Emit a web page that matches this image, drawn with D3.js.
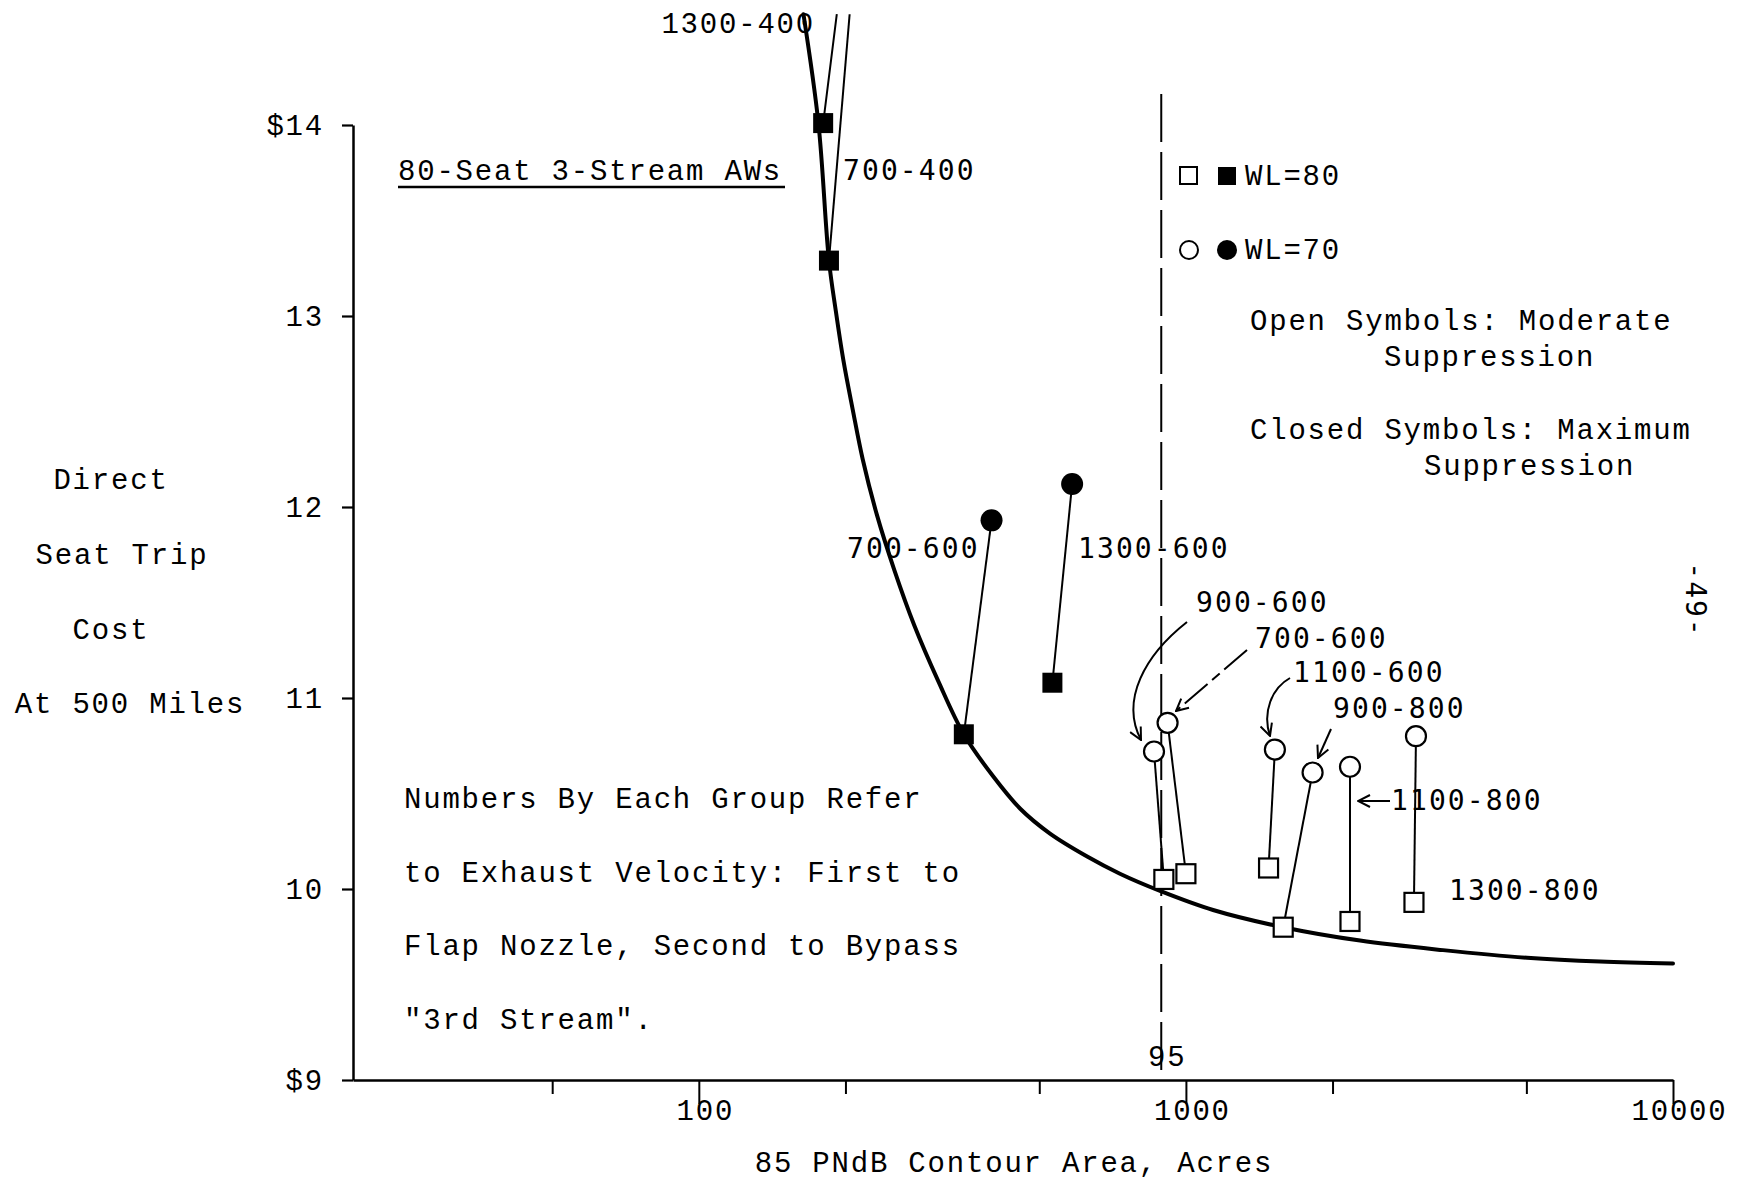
<!DOCTYPE html>
<html><head><meta charset="utf-8">
<script src="https://cdn.jsdelivr.net/npm/d3@7"></script>
<style>
html,body{margin:0;padding:0;background:#fff;}
svg{display:block;background:#fff;}
</style></head>
<body><svg id="chart" width="1743" height="1180"></svg>
<script>
// ---------------- DATA ----------------
// Cost-vs-noise envelope curve (85 PNdB contour area in acres, direct seat trip cost $)
const curveX = [164, 176, 185, 191, 198, 207, 217, 232, 252, 277, 310, 350, 402, 457, 526, 627, 732, 885, 1137, 1583, 2278, 3372, 5015, 7083, 10000];
const curveY = [14.58, 14.01, 13.29, 13.03, 12.77, 12.51, 12.25, 11.96, 11.67, 11.38, 11.09, 10.81, 10.59, 10.42, 10.29, 10.17, 10.08, 9.99, 9.89, 9.80, 9.73, 9.68, 9.64, 9.62, 9.61];

// Closed symbols (maximum suppression): square = WL=80, circle = WL=70
const closedLabels   = ["1300-400", "700-400", "700-600", "1300-600"];
const closedSquareX  = [180, 185, 350, 532];
const closedSquareY  = [14.01, 13.29, 10.81, 11.08];
const closedCircleX  = [192, 204, 399, 584];
const closedCircleY  = [14.58, 14.58, 11.93, 12.12];
const closedCircleOnScale = [false, false, true, true];

// Open symbols (moderate suppression): square = WL=80, circle = WL=70
const openLabels  = ["900-600", "700-600", "1100-600", "900-800", "1100-800", "1300-800"];
const openSquareX = [901, 1000, 1478, 1584, 2172, 2939];
const openSquareY = [10.05, 10.08, 10.11, 9.80, 9.83, 9.93];
const openCircleX = [860, 917, 1523, 1820, 2172, 2967];
const openCircleY = [10.72, 10.87, 10.73, 10.61, 10.64, 10.80];

// Reference line (95 PNdB)
const refLineX = 890;
const refLineLabel = "95";

// Axes
const yTicks = [9, 10, 11, 12, 13, 14];
const yTickLabels = ["$9", "10", "11", "12", "13", "$14"];
const xMajorTicks = [100, 1000, 10000];
const xMajorLabels = ["100", "1000", "10000"];
const xMinorTicks = [50, 200, 500, 2000, 5000];

// ---------------- CHART ----------------
const svg = d3.select("#chart");
const MONO = '"Liberation Mono","DejaVu Sans Mono",monospace';
const SANS = '"DejaVu Sans Mono",monospace';
const FS = 29, LS = 1.8;

const x = d3.scaleLog().domain([19.5, 10000]).range([353, 1673]);
const y = d3.scaleLinear().domain([9, 14]).range([1080, 125]);

svg.append("rect").attr("width", 1743).attr("height", 1180).attr("fill", "#fff");

// markers
const defs = svg.append("defs");
defs.append("marker").attr("id", "arr")
  .attr("viewBox", "0 0 14 14").attr("refX", 13).attr("refY", 7)
  .attr("markerWidth", 14).attr("markerHeight", 14)
  .attr("markerUnits", "userSpaceOnUse").attr("orient", "auto")
  .append("path").attr("d", "M1,1 L13,7 L1,13").attr("fill", "none")
  .attr("stroke", "#000").attr("stroke-width", 2);

// Y axis
const yAxis = d3.axisLeft(y).tickValues(yTicks)
  .tickFormat(d => yTickLabels[yTicks.indexOf(d)])
  .tickSize(11).tickSizeOuter(0).tickPadding(18);
const gy = svg.append("g").attr("transform", `translate(${x.range()[0]},0)`).call(yAxis);
gy.select(".domain").attr("stroke", "#000").attr("stroke-width", 2.5);
gy.selectAll(".tick line").attr("stroke", "#000").attr("stroke-width", 2.2);
gy.selectAll(".tick text").attr("font-family", MONO).attr("font-size", FS)
  .attr("letter-spacing", LS).attr("fill", "#000");

// X axis: minor ticks
const xMinor = d3.axisBottom(x).tickValues(xMinorTicks).tickFormat("").tickSize(14).tickSizeOuter(0);
const gxm = svg.append("g").attr("transform", `translate(0,${y(9)})`).call(xMinor);
gxm.select(".domain").attr("stroke", "#000").attr("stroke-width", 2.5);
gxm.selectAll(".tick line").attr("stroke", "#000").attr("stroke-width", 2);

// X axis: major ticks with labels
const xMajor = d3.axisBottom(x).tickValues(xMajorTicks)
  .tickFormat(d => xMajorLabels[xMajorTicks.indexOf(d)])
  .tickSize(24).tickSizeOuter(0).tickPadding(-5);
const gx = svg.append("g").attr("transform", `translate(0,${y(9)})`).call(xMajor);
gx.select(".domain").remove();
gx.selectAll(".tick line").attr("stroke", "#000").attr("stroke-width", 2);
gx.selectAll(".tick text").attr("font-family", MONO).attr("font-size", FS)
  .attr("letter-spacing", LS).attr("dx", 6).attr("fill", "#000");

// Axis titles
svg.append("text").attr("x", 1014).attr("y", 1172).attr("text-anchor", "middle")
  .attr("font-family", MONO).attr("font-size", FS).attr("letter-spacing", LS)
  .text("85 PNdB Contour Area, Acres");

const yTitle = [["Direct", 111, 489], ["Seat Trip", 122, 564], ["Cost", 111, 639], ["At 500 Miles", 130, 713]];
svg.append("g").selectAll("text").data(yTitle).join("text")
  .attr("x", d => d[1]).attr("y", d => d[2]).attr("text-anchor", "middle")
  .attr("font-family", MONO).attr("font-size", FS).attr("letter-spacing", LS)
  .text(d => d[0]);

// 95 reference dashed line
svg.append("line").attr("x1", x(refLineX)).attr("x2", x(refLineX))
  .attr("y1", 94).attr("y2", y(9) - 2)
  .attr("stroke", "#000").attr("stroke-width", 2).attr("stroke-dasharray", "48,10");
svg.append("text").attr("x", x(refLineX) + 6).attr("y", 1066).attr("text-anchor", "middle")
  .attr("font-family", MONO).attr("font-size", FS).attr("letter-spacing", LS)
  .text(refLineLabel);

// Envelope curve
const curvePts = curveX.map((v, i) => ({x: v, y: curveY[i]}));
svg.append("path").datum(curvePts)
  .attr("d", d3.line().x(d => x(d.x)).y(d => y(d.y)).curve(d3.curveCatmullRom.alpha(0.5)))
  .attr("fill", "none").attr("stroke", "#000").attr("stroke-width", 4)
  .attr("stroke-linejoin", "round").attr("stroke-linecap", "round");

// Pair connector lines
const closed = closedLabels.map((l, i) => ({l, sx: closedSquareX[i], sy: closedSquareY[i], cx: closedCircleX[i], cy: closedCircleY[i], on: closedCircleOnScale[i]}));
const open = openLabels.map((l, i) => ({l, sx: openSquareX[i], sy: openSquareY[i], cx: openCircleX[i], cy: openCircleY[i]}));

svg.append("g").selectAll("line").data(closed.concat(open)).join("line")
  .attr("x1", d => x(d.sx)).attr("y1", d => y(d.sy))
  .attr("x2", d => x(d.cx)).attr("y2", d => y(d.cy))
  .attr("stroke", "#000").attr("stroke-width", 2);

// Closed symbols
svg.append("g").selectAll("rect").data(closed).join("rect")
  .attr("x", d => x(d.sx) - 10).attr("y", d => y(d.sy) - 10)
  .attr("width", 20).attr("height", 20).attr("fill", "#000");
svg.append("g").selectAll("circle").data(closed.filter(d => d.on)).join("circle")
  .attr("cx", d => x(d.cx)).attr("cy", d => y(d.cy)).attr("r", 11).attr("fill", "#000");

// Open symbols
svg.append("g").selectAll("rect").data(open).join("rect")
  .attr("x", d => x(d.sx) - 9.5).attr("y", d => y(d.sy) - 9.5)
  .attr("width", 19).attr("height", 19).attr("fill", "#fff")
  .attr("stroke", "#000").attr("stroke-width", 2.2);
svg.append("g").selectAll("circle").data(open).join("circle")
  .attr("cx", d => x(d.cx)).attr("cy", d => y(d.cy)).attr("r", 10)
  .attr("fill", "#fff").attr("stroke", "#000").attr("stroke-width", 2.2);

// Group labels
const labelPos = [
  ["1300-400", 815, 33, "end", MONO],
  ["700-400", 843, 180, "start", SANS],
  ["700-600", 847, 558, "start", SANS],
  ["1300-600", 1078, 558, "start", SANS],
  ["900-600", 1196, 612, "start", SANS],
  ["700-600", 1255, 648, "start", SANS],
  ["1100-600", 1293, 682, "start", SANS],
  ["900-800", 1333, 718, "start", SANS],
  ["1100-800", 1391, 810, "start", SANS],
  ["1300-800", 1449, 900, "start", SANS]
];
svg.append("g").selectAll("text").data(labelPos).join("text")
  .attr("x", d => d[1]).attr("y", d => d[2]).attr("text-anchor", d => d[3])
  .attr("font-family", d => d[4]).attr("font-size", d => d[4] === MONO ? FS : 28)
  .attr("letter-spacing", d => d[4] === MONO ? LS : 2.1)
  .text(d => d[0]);

// Arrows
const arrows = [
  "M1187,622 C1145,655 1120,700 1141,740",
  "M1247,650 L1176,711",
  "M1290,678 C1272,688 1262,712 1270,736",
  "M1331,729 L1318,758",
  "M1390,801 L1358,801"
];
svg.append("g").selectAll("path").data(arrows).join("path")
  .attr("d", d => d).attr("fill", "none").attr("stroke", "#000").attr("stroke-width", 2)
  .attr("stroke-dasharray", (d, i) => i === 1 ? "30,6,10,6" : null)
  .attr("marker-end", "url(#arr)");

// Title
svg.append("text").attr("x", 398).attr("y", 180)
  .attr("font-family", MONO).attr("font-size", FS).attr("letter-spacing", LS)
  .text("80-Seat 3-Stream AWs");
svg.append("line").attr("x1", 398).attr("x2", 785).attr("y1", 187).attr("y2", 187)
  .attr("stroke", "#000").attr("stroke-width", 2.5);

// Legend
svg.append("rect").attr("x", 1180).attr("y", 167).attr("width", 17).attr("height", 17)
  .attr("fill", "#fff").attr("stroke", "#000").attr("stroke-width", 2);
svg.append("rect").attr("x", 1218).attr("y", 167).attr("width", 18).attr("height", 18).attr("fill", "#000");
svg.append("circle").attr("cx", 1189).attr("cy", 250).attr("r", 9)
  .attr("fill", "#fff").attr("stroke", "#000").attr("stroke-width", 2);
svg.append("circle").attr("cx", 1227).attr("cy", 250).attr("r", 10).attr("fill", "#000");
const legendText = [
  ["WL=80", 1245, 185], ["WL=70", 1245, 259],
  ["Open Symbols: Moderate", 1250, 330], ["Suppression", 1384, 366],
  ["Closed Symbols: Maximum", 1250, 439], ["Suppression", 1424, 475]
];
svg.append("g").selectAll("text").data(legendText).join("text")
  .attr("x", d => d[1]).attr("y", d => d[2])
  .attr("font-family", MONO).attr("font-size", FS).attr("letter-spacing", LS)
  .text(d => d[0]);

// Note
const note = ["Numbers By Each Group Refer", "to Exhaust Velocity: First to", "Flap Nozzle, Second to Bypass", "\"3rd Stream\"."];
svg.append("g").selectAll("text").data(note).join("text")
  .attr("x", 404).attr("y", (d, i) => 808 + i * 73.5)
  .attr("font-family", MONO).attr("font-size", FS).attr("letter-spacing", LS)
  .text(d => d);

// Page number
svg.append("text").attr("transform", "translate(1686,600) rotate(90)")
  .attr("text-anchor", "middle").attr("font-family", SANS).attr("font-size", 28)
  .attr("letter-spacing", 2).text("-49-");
</script>
</body></html>
